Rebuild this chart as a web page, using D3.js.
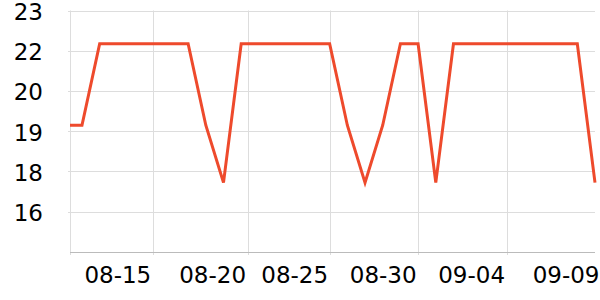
<!DOCTYPE html>
<html>
<head>
<meta charset="utf-8">
<script src="https://cdn.jsdelivr.net/npm/d3@7"></script>
<style>
  body { margin: 0; background: #fff; }
  text { font-family: "DejaVu Sans", sans-serif; fill: #000; }
</style>
</head>
<body>
<div id="chart"></div>
<script>
// daily readings, 08-10 .. 09-09
var dates = ["2023-08-10","2023-08-11","2023-08-12","2023-08-13","2023-08-14","2023-08-15",
  "2023-08-16","2023-08-17","2023-08-18","2023-08-19","2023-08-20","2023-08-21","2023-08-22",
  "2023-08-23","2023-08-24","2023-08-25","2023-08-26","2023-08-27","2023-08-28","2023-08-29",
  "2023-08-30","2023-08-31","2023-09-01","2023-09-02","2023-09-03","2023-09-04","2023-09-05",
  "2023-09-06","2023-09-07","2023-09-08","2023-09-09"];
var values = [19.2, 19.2, 21.9, 21.9, 21.9, 21.9,
  21.9, 21.9, 19.2, 17.3, 21.9, 21.9, 21.9,
  21.9, 21.9, 21.9, 19.2, 17.3, 19.2, 21.9,
  21.9, 17.3, 21.9, 21.9, 21.9, 21.9, 21.9,
  21.9, 21.9, 21.9, 17.3];

// x ticks as they sit on the picture
var xTickTimes = ["2023-08-15T00:00","2023-08-20T08:40","2023-08-25T00:00",
  "2023-08-30T00:00","2023-09-04T00:00","2023-09-09T08:10"];
var xTickLabels = ["08-15","08-20","08-25","08-30","09-04","09-09"];

var yTickValues = [23, 21.667, 20.333, 19, 17.667, 16.333];
var yTickLabels = ["23","22","20","19","18","16"];

var width = 600, height = 300;
var margin = {top: 10.5, right: 5, bottom: 48, left: 70};

var parse = d3.timeParse("%Y-%m-%d");
var parseT = d3.timeParse("%Y-%m-%dT%H:%M");

var data = dates.map(function(d, i) { return {date: parse(d), value: values[i]}; });

var svg = d3.select("#chart").append("svg")
  .attr("width", width)
  .attr("height", height);

var x = d3.scaleTime()
  .domain([parseT("2023-08-10T07:45"), parse("2023-09-09")])
  .range([margin.left, width - margin.right]);

var y = d3.scaleLinear()
  .domain([15, 23])
  .range([height - margin.bottom, margin.top]);

// horizontal grid
svg.append("g")
  .selectAll("line")
  .data(yTickValues)
  .enter().append("line")
    .attr("x1", margin.left - 2)
    .attr("x2", width - margin.right)
    .attr("y1", function(d) { return Math.round(y(d)) + 0.5; })
    .attr("y2", function(d) { return Math.round(y(d)) + 0.5; })
    .attr("stroke", "#dddddd");

// vertical grid
var xt = xTickTimes.map(function(d) { return parseT(d); });
svg.append("g")
  .selectAll("line")
  .data([x.domain()[0]].concat(xt).filter(function(d) { return x(d) <= width - margin.right; }))
  .enter().append("line")
    .attr("x1", function(d) { return Math.round(x(d)) + 0.5; })
    .attr("x2", function(d) { return Math.round(x(d)) + 0.5; })
    .attr("y1", margin.top)
    .attr("y2", height - margin.bottom + 3)
    .attr("stroke", "#dddddd");

// x axis line
svg.append("line")
  .attr("x1", margin.left)
  .attr("x2", width - margin.right)
  .attr("y1", height - margin.bottom + 0.5)
  .attr("y2", height - margin.bottom + 0.5)
  .attr("stroke", "#bbbbbb");

// y labels
svg.append("g")
  .selectAll("text")
  .data(yTickValues)
  .enter().append("text")
    .attr("x", 43)
    .attr("y", function(d) { return y(d) + 1; })
    .attr("dy", "0.36em")
    .attr("text-anchor", "end")
    .style("font-size", "23px")
    .text(function(d, i) { return yTickLabels[i]; });

// x labels (right aligned on tick)
svg.append("g")
  .selectAll("text")
  .data(xt)
  .enter().append("text")
    .attr("x", function(d) { return x(d) - 1.5; })
    .attr("y", 282.5)
    .attr("text-anchor", "end")
    .style("font-size", "23px")
    .text(function(d, i) { return xTickLabels[i]; });

// clip to plot
svg.append("clipPath").attr("id", "clip")
  .append("rect")
    .attr("x", margin.left)
    .attr("y", 0)
    .attr("width", width - margin.right - margin.left + 2)
    .attr("height", height);

var line = d3.line()
  .x(function(d) { return x(d.date); })
  .y(function(d) { return y(d.value); });

svg.append("path")
  .datum(data)
  .attr("clip-path", "url(#clip)")
  .attr("fill", "none")
  .attr("stroke", "#ee4a2c")
  .attr("stroke-width", 3)
  .attr("stroke-linejoin", "miter")
  .attr("d", line);
</script>
</body>
</html>
